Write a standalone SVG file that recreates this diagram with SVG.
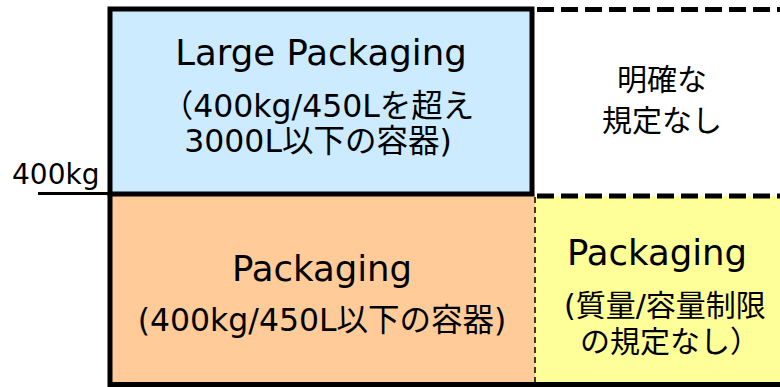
<svg xmlns="http://www.w3.org/2000/svg" width="780" height="387" viewBox="0 0 780 387">
<style>
text{font-family:"DejaVu Sans","Noto Sans CJK JP",sans-serif;fill:#000}
.t{font-size:35.5px}
.s{font-size:31.5px}
.c{text-anchor:middle}
.thick{stroke:#000;stroke-width:5;fill:none}
.dash{stroke:#000;stroke-width:5;stroke-dasharray:17 7;fill:none}
</style>
<rect width="780" height="387" fill="#fff"/>
<g id="orange">
<rect x="110" y="194" width="425" height="191" fill="#FFCC99"/>
<text class="t c" x="322" y="281">Packaging</text>
<text class="s c" x="322" y="331">(400kg/450L以下の容器)</text>
</g>
<g id="yellow">
<rect x="535" y="196" width="245" height="189" fill="#FFFF99"/>
<text class="t c" x="657" y="265">Packaging</text>
<text class="s" x="564" y="316" style="font-size:30px">(質量/容量制限</text>
<text class="s" x="580" y="352" style="font-size:30px">の規定なし）</text>
</g>
<g id="blue">
<rect x="110" y="9" width="422" height="185" style="fill:#CCEBFF;stroke:#000;stroke-width:5"/>
<text class="t c" x="321" y="65">Large Packaging</text>
<text class="s c" x="318" y="117">（400kg/450Lを超え</text>
<text class="s c" x="318" y="152">3000L以下の容器)</text>
</g>
<g id="white">
<text class="s c" x="662" y="90" style="font-size:30px">明確な</text>
<text class="s c" x="662" y="131" style="font-size:30px">規定なし</text>
</g>
<g id="label">
<text x="12" y="184" style="font-size:28px">400kg</text>
</g>
<g id="connectors">
<line x1="38" y1="193.5" x2="110" y2="193.5" stroke="#000" stroke-width="3"/>
<line class="thick" x1="110" y1="192" x2="110" y2="387"/>
<line class="thick" x1="108" y1="384.5" x2="780" y2="384.5"/>
<line x1="535" y1="197" x2="535" y2="383" stroke="#000" stroke-width="1.5" stroke-dasharray="6 4"/>
<line class="dash" x1="537" y1="9.5" x2="780" y2="9.5"/>
<line class="dash" x1="537" y1="196" x2="780" y2="196"/>
</g>
</svg>
